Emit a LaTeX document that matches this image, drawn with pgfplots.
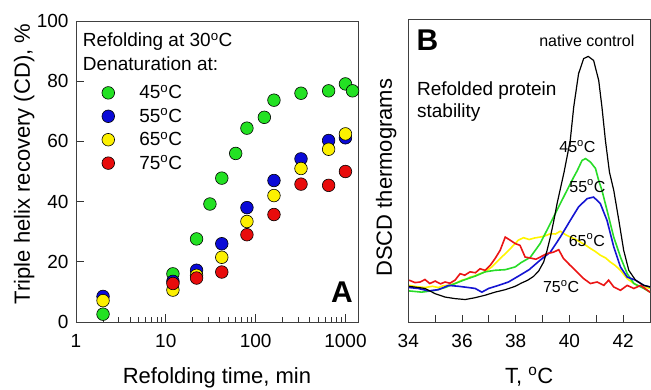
\documentclass[border=0pt]{standalone}
\usepackage{pgfplots}
\pgfplotsset{compat=1.18}
\usepackage{fontspec}
\setmainfont{Liberation Sans}
\definecolor{mgreen}{RGB}{35,225,35}
\definecolor{mblue}{RGB}{10,10,215}
\definecolor{myellow}{RGB}{252,240,0}
\definecolor{mred}{RGB}{232,12,12}
\definecolor{lgreen}{RGB}{40,220,40}
\definecolor{lblue}{RGB}{20,20,210}
\definecolor{lyellow}{RGB}{255,245,0}
\definecolor{lred}{RGB}{235,20,20}
\begin{document}
\begin{tikzpicture}
\path[use as bounding box] (0pt,0pt) rectangle (651pt,389pt);
\begin{axis}[
  at={(76pt,67pt)}, anchor=south west, scale only axis,
  width=282pt, height=301pt,
  xmode=log, xmin=1, xmax=1380, ymin=0, ymax=100,
  xtick={1,10,100,1000}, xticklabels={1,10,100,1000},
  minor xtick={2,3,4,5,6,7,8,9,20,30,40,50,60,70,80,90,200,300,400,500,600,700,800,900},
  ytick={0,20,40,60,80,100},
  tick align=inside, xtick pos=left, ytick pos=left,
  major tick length=8pt, minor tick length=5pt,
  tick style={black!80, line width=0.8pt},
  axis line style={line width=0.9pt, black!75},
  ticklabel style={font=\fontsize{19}{22}\selectfont},
  xticklabel style={yshift=-9pt},
  yticklabel style={xshift=-4pt},
  /pgf/number format/assume math mode=true,
  xlabel={Refolding time, min},
  ylabel={Triple helix recovery (CD), \%},
  every axis y label/.style={at={(axis description cs:-0.184,0.525)}, rotate=90, anchor=center, font=\fontsize{22}{26}\selectfont},
  every axis x label/.style={at={(axis description cs:0.5,0)}, anchor=base, yshift=-61pt, font=\fontsize{22}{26}\selectfont},
  clip=false,
  legend cell align=left,
  legend image code/.code={\draw[#1] plot coordinates {(13pt,0pt)}; \path[draw=none,fill=none] (0pt,-6pt) rectangle (42pt,6pt);},
  legend style={draw=none, fill=none, at={(axis description cs:0.057,0.80)}, anchor=north west,
    font=\fontsize{19}{22}\selectfont, row sep=4.5pt},
]
\addplot[only marks, mark=*, mark size=6.3pt, mark options={draw=black, line width=0.6pt, fill=mgreen}] coordinates {
(2,2.6) (12,16) (22,27.6) (31,39.2) (42,47.8) (60,56) (80,64.4) (125,68) (160,73.7)
(320,76) (650,76.8) (1000,79.1) (1200,76.8)};
\addlegendentry{45\textsuperscript{o}C}
\addplot[only marks, mark=*, mark size=6.3pt, mark options={draw=black, line width=0.6pt, fill=mblue}] coordinates {
(2,8.5) (12,13.5) (22,17.2) (42,26) (80,38) (160,47) (320,54.2) (650,60.3) (1000,61.2)};
\addlegendentry{55\textsuperscript{o}C}
\addplot[only marks, mark=*, mark size=6.3pt, mark options={draw=black, line width=0.6pt, fill=myellow}] coordinates {
(2,7.1) (12,10.6) (22,15.5) (42,21.5) (80,33.4) (160,42) (320,51) (650,57.4) (1000,62.5)};
\addlegendentry{65\textsuperscript{o}C}
\addplot[only marks, mark=*, mark size=6.3pt, mark options={draw=black, line width=0.6pt, fill=mred}] coordinates {
(12,12.8) (22,14.6) (42,16.6) (80,29) (160,35.7) (320,45.8) (650,45.4) (1000,50)};
\addlegendentry{75\textsuperscript{o}C}
\node[anchor=base west, font=\fontsize{19}{22}\selectfont, inner sep=0pt] at (axis description cs:0.024,0.914) {Refolding at 30\textsuperscript{o}C};
\node[anchor=base west, font=\fontsize{19}{22}\selectfont, inner sep=0pt] at (axis description cs:0.024,0.837) {Denaturation at:};
\node[font=\fontsize{30}{34}\bfseries\selectfont, inner sep=0pt] at (axis description cs:0.943,0.0997) {A};
\end{axis}
\begin{axis}[
  at={(408.3pt,67pt)}, anchor=south west, scale only axis,
  width=241.7pt, height=302.5pt,
  xmin=34, xmax=43, ymin=0, ymax=98.3,
  xtick={34,36,38,40,42}, minor xtick={35,37,39,41,43}, ytick=\empty,
  tick align=inside, xtick pos=left,
  major tick length=7pt, minor tick length=7pt,
  tick style={black!80, line width=0.8pt},
  axis line style={line width=0.9pt, black!75},
  ticklabel style={font=\fontsize{19}{22}\selectfont},
  xticklabel style={yshift=-9pt},
  /pgf/number format/assume math mode=true,
  xlabel={T, \textsuperscript{o}C},
  ylabel={DSCD thermograms},
  every axis y label/.style={at={(axis description cs:-0.091,0.477)}, rotate=90, anchor=center, font=\fontsize{22}{26}\selectfont},
  every axis x label/.style={at={(axis description cs:0.5,0)}, anchor=base, yshift=-61pt, font=\fontsize{22}{26}\selectfont},
  clip=true,
]
\addplot[lyellow, line width=1.6pt] coordinates {
(34.03,11.9) (34.3,11.5) (34.62,11.2) (34.9,11.6) (35.12,11.2) (35.3,11.8) (35.5,11.9) (35.74,12.5) (35.99,13.6)
(36.15,13.9) (36.3,14.6) (36.45,14.9) (36.61,15.5) (36.86,16.3) (37.11,17.9) (37.36,20.1) (37.61,22.2)
(37.86,24.4) (38.1,26.6) (38.29,27.4) (38.5,26.8) (38.7,27.3) (38.91,27.6) (39.1,28.0) (39.29,28.7)
(39.48,28.6) (39.66,29.5) (39.85,28.4) (40.03,27.6) (40.2,27.0) (40.4,26) (40.6,25.0) (40.78,23.9)
(40.95,23.0) (41.15,21.7) (41.35,20.8) (41.52,19.5) (41.7,18.4) (41.9,16.8) (42.15,14.1) (42.35,12.8)
(42.52,11.9) (42.75,11.5) (43,10.9)};
\addplot[lgreen, line width=1.6pt] coordinates {
(34.03,10.1) (34.5,9.7) (35.0,10.3) (35.37,11.2) (35.74,12.5) (36.12,13.8) (36.49,14.9) (36.86,16.3)
(37.23,16.8) (37.61,17.0) (37.98,17.9) (38.2,19.3) (38.54,21) (38.91,25.5) (39.16,29.8) (39.41,34.1)
(39.66,38.5) (39.91,42.8) (40.16,47.1) (40.28,49) (40.47,52.5) (40.6,53.1) (40.78,52) (40.97,49.9)
(41.09,46) (41.21,42.8) (41.4,36.3) (41.65,27.6) (41.9,21.1) (42.15,15.7) (42.4,12.5) (42.77,10.9) (43,9.7)};
\addplot[lblue, line width=1.6pt] coordinates {
(34.03,11.2) (34.37,10.9) (34.75,10.1) (35.12,10.5) (35.5,11.9) (35.87,11.6) (36.24,11.2) (36.49,10.9)
(36.74,9.7) (36.99,10.9) (37.36,11.9) (37.73,13.0) (38.1,14.9) (38.5,17.0) (38.91,20.1) (39.29,22.7)
(39.66,27.6) (40.03,33) (40.34,37.4) (40.66,40.1) (40.9,40.6) (41.15,38.5) (41.4,33) (41.65,24.4)
(41.9,17.9) (42.15,14.6) (42.46,13.6) (42.77,11.9) (43,11.4)};
\addplot[lred, line width=1.6pt] coordinates {
(34.03,13.6) (34.25,12.8) (34.44,13.0) (34.62,13.8) (34.8,12.5) (35.0,13.3) (35.2,12.4) (35.37,13.0)
(35.55,12.6) (35.74,13.6) (35.93,15.7) (36.1,15.2) (36.3,16.3) (36.5,16.0) (36.67,17.3) (36.86,16.8)
(37.05,18.4) (37.23,20.6) (37.42,23.3) (37.61,27.6) (37.79,26.6) (37.98,25.5) (38.16,24.9) (38.35,21.1)
(38.54,20.8) (38.75,20.4) (38.91,21.1) (39.16,22.2) (39.41,22.7) (39.6,23.5) (39.78,20.6) (40.03,18.4)
(40.28,16.3) (40.53,14.1) (40.78,12.5) (41.03,13.0) (41.28,11.9) (41.46,13.6) (41.65,11.4) (41.9,10.3)
(42.15,11.9) (42.4,10.9) (42.65,11.9) (43,9.7)};
\addplot[black, line width=1.2pt] coordinates {
(34.03,11.6) (34.62,10.9) (35.0,9.2) (35.37,8.1) (35.74,7.6) (36.12,7.3) (36.49,7.9) (36.86,8.7)
(37.23,9.7) (37.61,10.5) (37.98,11.6) (38.2,12.6) (38.45,13.6) (38.66,14.8) (38.85,16.5) (39.04,19.5)
(39.16,23) (39.29,27.6) (39.42,33) (39.54,38.5) (39.8,48.7) (40.03,59) (40.16,69.9) (40.34,80.7)
(40.53,85.6) (40.7,86.3) (40.9,85) (41.09,78.5) (41.21,69.9) (41.34,59) (41.49,48.7) (41.65,42.8)
(41.84,33) (42.02,23.3) (42.21,16.8) (42.46,13.6) (42.77,11.9) (43,11.4)};
\node[font=\fontsize{16}{19}\selectfont, anchor=base] at (axis cs:40.65,89.4) {native control};
\node[font=\fontsize{19}{22}\selectfont, anchor=base west, inner sep=0pt] at (axis cs:34.32,73.5) {Refolded protein};
\node[font=\fontsize{19}{22}\selectfont, anchor=base west, inner sep=0pt] at (axis cs:34.32,66.4) {stability};
\node[font=\fontsize{16}{19}\selectfont, inner sep=0pt] at (axis cs:40.3,56.9) {45\textsuperscript{o}C};
\node[font=\fontsize{16}{19}\selectfont, inner sep=0pt] at (axis cs:40.67,44.2) {55\textsuperscript{o}C};
\node[font=\fontsize{16}{19}\selectfont, inner sep=0pt] at (axis cs:40.65,26.6) {65\textsuperscript{o}C};
\node[font=\fontsize{16}{19}\selectfont, inner sep=0pt] at (axis cs:39.69,11.4) {75\textsuperscript{o}C};
\node[font=\fontsize{30}{34}\bfseries\selectfont, inner sep=0pt] at (axis cs:34.71,91.5) {B};
\end{axis}
\end{tikzpicture}
\end{document}
